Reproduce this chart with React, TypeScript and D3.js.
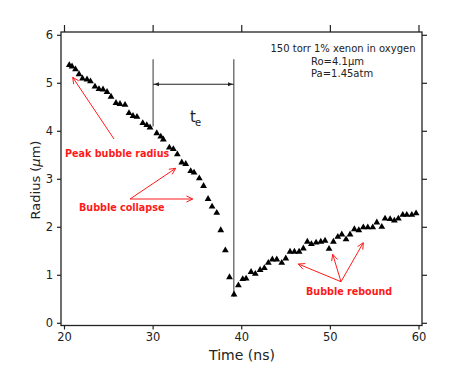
import React from "react";
import * as d3 from "d3";

const times = [
  20.54, 20.85, 21.24, 21.64, 22.03, 22.54, 22.93, 23.44, 23.89, 24.35, 24.8, 25.25, 25.81, 26.26, 26.83,
  27.28, 27.73, 28.18, 28.83, 29.28, 29.65, 30.41, 30.86, 31.15, 31.83, 32.28, 32.73, 33.23, 33.68, 34.24,
  34.62, 35.21, 35.69, 36.2, 36.65, 37.18, 37.63, 38.15, 38.62, 39.13,
  39.62, 40.11, 40.49, 41.05, 41.53, 42.07, 42.55, 43.0, 43.45, 43.95, 44.51, 44.97, 45.45, 45.94, 46.47,
  46.95, 47.4, 47.86, 48.39, 48.92, 49.4, 49.85, 50.34, 50.84, 51.29, 51.77, 52.22, 52.71, 53.21, 53.72,
  54.22, 54.78, 55.24, 55.8, 56.17, 56.74, 57.22, 57.67, 58.17, 58.62, 59.19, 59.67,
];
const radii = [
  5.38, 5.35, 5.29, 5.19, 5.1, 5.08, 5.04, 4.93, 4.88, 4.87, 4.82, 4.72, 4.59, 4.57, 4.55,
  4.38, 4.32, 4.3, 4.17, 4.13, 4.08, 3.96, 3.89, 3.83, 3.66, 3.63, 3.52, 3.35, 3.32, 3.17,
  3.14, 3.02, 2.86, 2.59, 2.43, 2.3, 1.94, 1.52, 0.96, 0.6,
  0.79, 0.92, 0.93, 1.07, 1.03, 1.11, 1.15, 1.26, 1.33, 1.33, 1.26, 1.35, 1.49, 1.49, 1.49,
  1.56, 1.7, 1.65, 1.68, 1.7, 1.72, 1.55, 1.7, 1.8, 1.85, 1.75, 1.85, 1.96, 1.94, 2.0,
  2.0, 2.0, 2.1, 2.01, 2.18, 2.17, 2.14, 2.18, 2.26, 2.26, 2.26, 2.29,
];
const xTicks = [20, 30, 40, 50, 60];
const yTicks = [0, 1, 2, 3, 4, 5, 6];
const infoLines = ["150 torr 1% xenon in oxygen", "Ro=4.1\u00b5m", "Pa=1.45atm"];

const W = 471;
const H = 377;
const FONT = "'DejaVu Sans', sans-serif";

export default function App() {
  const x = d3.scaleLinear().domain([20, 60]).range([64.5, 419]);
  const y = d3.scaleLinear().domain([0, 6]).range([323.3, 35.3]);
  const left = 61, right = 422, top = 32, bottom = 325.5;
  const tri = d3.symbol().type(d3.symbolTriangle).size(20)();

  const red = "#ff1a1a";
  const arrow = (x1: number, y1: number, x2: number, y2: number, key: string) => {
    const a = Math.atan2(y2 - y1, x2 - x1);
    const L = 7, s = 0.45;
    const p1 = [x2 - L * Math.cos(a - s), y2 - L * Math.sin(a - s)];
    const p2 = [x2 - L * Math.cos(a + s), y2 - L * Math.sin(a + s)];
    return (
      <g key={key} stroke={red} strokeWidth={1} fill="none">
        <line x1={x1} y1={y1} x2={x2} y2={y2} />
        <polyline points={`${p1[0]},${p1[1]} ${x2},${y2} ${p2[0]},${p2[1]}`} />
      </g>
    );
  };
  const dimHead = (xt: number, yy: number, dir: number, key: string) => (
    <path key={key} d={`M${xt},${yy} L${xt - dir * 5},${yy - 2} L${xt - dir * 5},${yy + 2} Z`} fill="#222" />
  );

  const xs = x(30), xe = x(39.1), yTop = y(5.5), yArr = y(4.98);

  return (
    <svg width={W} height={H} style={{ position: "absolute", left: 0, top: 0, background: "#fff" }} fontFamily={FONT}>
      <rect x={0} y={0} width={W} height={H} fill="#fff" />
      {/* frame */}
      <rect x={left} y={top} width={right - left} height={bottom - top} fill="none" stroke="#222" strokeWidth={1.3} />
      {/* y ticks */}
      {yTicks.map((t) => (
        <g key={"y" + t}>
          <line x1={left - 4} x2={left} y1={y(t)} y2={y(t)} stroke="#222" strokeWidth={1.2} />
          <line x1={right} x2={right + 5} y1={y(t)} y2={y(t)} stroke="#222" strokeWidth={1.2} />
          <text x={53} y={y(t) + 4} textAnchor="end" fontSize={11.5} fill="#222">{t}</text>
        </g>
      ))}
      {/* x ticks */}
      {xTicks.map((t) => (
        <g key={"x" + t}>
          <line x1={x(t)} x2={x(t)} y1={bottom} y2={bottom + 4} stroke="#222" strokeWidth={1.2} />
          <line x1={x(t)} x2={x(t)} y1={top - 7} y2={top} stroke="#222" strokeWidth={1.2} />
          <text x={x(t)} y={341} textAnchor="middle" fontSize={11.5} fill="#222">{t}</text>
        </g>
      ))}
      {/* axis titles */}
      <text x={242} y={360} textAnchor="middle" fontSize={14} fill="#222">Time (ns)</text>
      <text transform={`translate(40,180) rotate(-90)`} textAnchor="middle" fontSize={13} fill="#222">
        Radius (<tspan fontStyle="italic">{"\u00b5"}</tspan>m)
      </text>
      {/* info */}
      <text x={343} y={52} textAnchor="middle" fontSize={10} fill="#222">{infoLines[0]}</text>
      <text x={311} y={64.5} fontSize={10} fill="#222">{infoLines[1]}</text>
      <text x={311} y={77} fontSize={10} fill="#222">{infoLines[2]}</text>
      {/* t_e marker */}
      <line x1={xs} x2={xs} y1={yTop} y2={y(4.1)} stroke="#777" strokeWidth={1.5} />
      <line x1={xe} x2={xe} y1={yTop} y2={y(0.55)} stroke="#777" strokeWidth={1.5} />
      <line x1={xs} x2={xe} y1={yArr} y2={yArr} stroke="#222" strokeWidth={1} />
      {dimHead(xs + 0.8, yArr, -1, "h1")}
      {dimHead(xe - 0.8, yArr, 1, "h2")}
      <text x={190} y={122} fontSize={15} fill="#222">t</text>
      <text x={195} y={126} fontSize={10} fill="#222">e</text>
      {/* data */}
      {times.map((t, i) => (
        <path key={"p" + i} d={tri} transform={`translate(${x(t)},${y(radii[i])})`} fill="#000" />
      ))}
      {/* annotations */}
      {arrow(114, 139, 72.7, 77.3, "a1")}
      <text x={65} y={157} fontSize={9.6} fontWeight="bold" fill={red}>Peak bubble radius</text>
      {arrow(130, 199, 175.7, 168.3, "a2")}
      {arrow(130, 199, 192.7, 199, "a3")}
      <text x={79} y={210.5} fontSize={9.6} fontWeight="bold" fill={red}>Bubble collapse</text>
      {arrow(341, 281.7, 298.3, 264, "a4")}
      {arrow(341, 281.7, 332.7, 254.3, "a5")}
      {arrow(341, 281.7, 363.3, 242.7, "a6")}
      <text x={306} y={295} fontSize={9.6} fontWeight="bold" fill={red}>Bubble rebound</text>
    </svg>
  );
}
